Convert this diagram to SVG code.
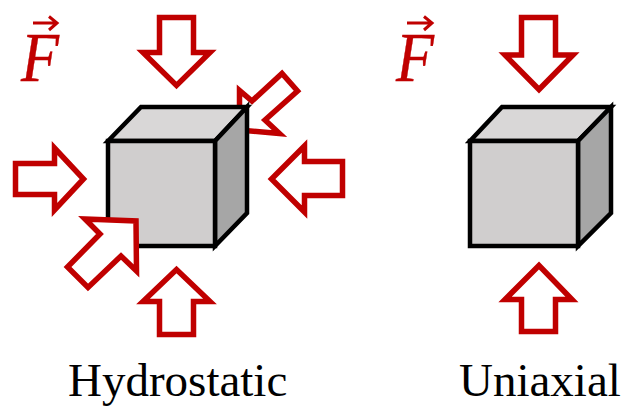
<svg xmlns="http://www.w3.org/2000/svg" width="622" height="406" viewBox="0 0 622 406">
<style>
.a{fill:#fff;stroke:#c00000;stroke-width:5.500;stroke-miterlimit:10}
.e{stroke:#000;stroke-width:4.500;stroke-linejoin:miter}
.f{fill:#d0cece}.t{fill:#d9d7d7}.s{fill:#a6a6a6}
.l{font-family:"Liberation Serif","Times New Roman",serif;font-size:47px;fill:#000}
.F{font-family:"Liberation Serif","Times New Roman",serif;font-style:italic;font-size:70px;fill:#c00000;stroke:#c00000;stroke-width:.4}
.v{fill:none;stroke:#c00000;stroke-width:3}
</style>
<rect width="622" height="406" fill="#fff"/>
<g id="arrow-back-diagonal"><polygon class="a" points="239.500,90.500 239.500,130 279.500,133.500 265,120 297.500,91 282,73.500 252,101"/></g>
<g id="cube-hydrostatic">
<polygon class="t e" points="108,141 141,107 247,107 215,141"/>
<polygon class="s e" points="215,141 247,107 247,213 215,246"/>
<rect class="f e" x="108" y="141" width="107" height="105"/>
</g>
<g id="cube-uniaxial">
<polygon class="t e" points="470,141 502,107 611,107 578,141"/>
<polygon class="s e" points="578,141 611,107 611,213 578,246"/>
<rect class="f e" x="470" y="141" width="108" height="105"/>
</g>
<g id="arrow-top"><polygon class="a" points="159.500,17.500 193.500,17.500 193.500,52.500 210,52.500 176.500,85.500 143,52.500 159.500,52.500"/></g>
<g id="arrow-left"><polygon class="a" points="15.500,163.500 54.500,163.500 54.500,148 83.500,179 54.500,210 54.500,194.500 15.500,194.500"/></g>
<g id="arrow-right"><polygon class="a" points="342.500,161.500 304.500,161.500 304.500,146 271.500,179 304.500,212 304.500,195.500 342.500,195.500"/></g>
<g id="arrow-bottom"><polygon class="a" points="159.500,334.500 193.500,334.500 193.500,301.500 210,301.500 176.500,269.500 143,301.500 159.500,301.500"/></g>
<g id="arrow-front-diagonal"><polygon class="a" points="85,219 136,221 136.500,271 121,256 88,287.500 67.500,267 100,234"/></g>
<g id="arrow-uniaxial-top"><polygon class="a" points="521.500,17.500 555.500,17.500 555.500,55 573,55 539,89.500 505,55 521.500,55"/></g>
<g id="arrow-uniaxial-bottom"><polygon class="a" points="521.500,331.500 555.500,331.500 555.500,299.500 572,299.500 539,265.500 505,299.500 521.500,299.500"/></g>
<g id="force-label-left">
<text class="F" x="21" y="81" textLength="38" lengthAdjust="spacingAndGlyphs">F</text>
<path class="v" d="M33,23H57M49,16.500L57,23L49,30"/>
</g>
<g id="force-label-right">
<text class="F" x="396" y="81" textLength="38" lengthAdjust="spacingAndGlyphs">F</text>
<path class="v" d="M407,23H432M424,16.500L432,23L424,30"/>
</g>
<text class="l" x="68" y="395.500">Hydrostatic</text>
<text class="l" x="459" y="395.500">Uniaxial</text>
</svg>
